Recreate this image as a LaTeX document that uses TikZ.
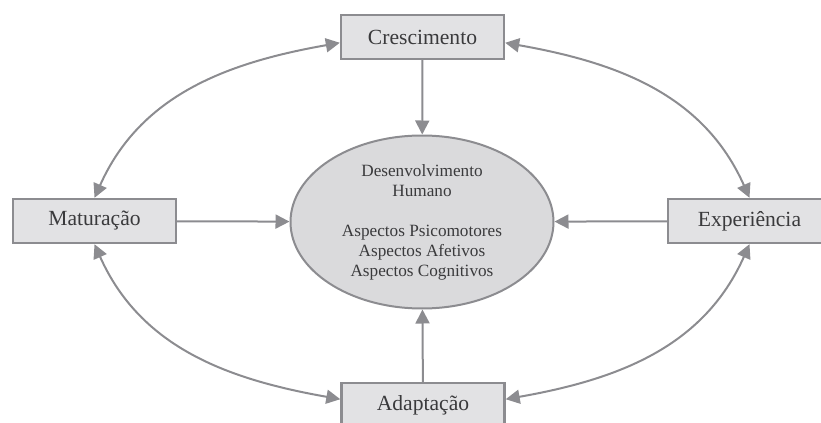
\documentclass[tikz,border=0pt]{standalone}
\usepackage{fontspec}
\setmainfont{Liberation Serif}
\usetikzlibrary{shapes.geometric,arrows.meta}
\definecolor{linegray}{RGB}{140,140,144}
\definecolor{boxfill}{RGB}{226,226,228}
\definecolor{ellfill}{RGB}{218,218,220}
\definecolor{textgray}{RGB}{58,58,60}
\begin{document}
\begin{tikzpicture}[x=0.5pt, y=-0.5pt, >={Triangle[length=7pt,width=7pt]},
  box/.style={shape=rectangle, draw=linegray, line width=1.2pt, fill=boxfill, text=textgray,
    minimum width=81.5pt, minimum height=22pt, inner sep=0pt, font=\fontsize{10.8}{13}\selectfont},
  link/.style={line width=1pt, color=linegray}]
\useasboundingbox (0,0) rectangle (821,423);
\node[shape=ellipse, draw=linegray, line width=1pt, fill=ellfill, text=textgray, align=center,
  minimum width=131.5pt, minimum height=86.5pt, inner sep=0pt, font=\fontsize{8.6}{10}\selectfont]
  (H) at (422,222) {Desenvolvimento\\Humano\\[10pt]Aspectos Psicomotores\\Aspectos Afetivos\\Aspectos Cognitivos};
\node[box] (C) at (422.5,37) {Crescimento};
\node[box] (M) at (94.5,221) {Maturação};
\node[box] (E) at (749.5,221) {Experiência};
\node[box] (A) at (423,405) {Adaptação};
\draw [->, link] (C) -- (H);
\draw [->, link] (M) -- (H);
\draw [->, link] (E) -- (H);
\draw [->, link] (A) -- (H);
\draw [<->, link] (C.184) to [out=190, in=66] (M.north);
\draw [<->, link] (C.-4) to [out=-10, in=114] (E.north);
\draw [<->, link] (A.176) to [out=170, in=-66] (M.south);
\draw [<->, link] (A.4) to [out=10, in=-114] (E.south);
\end{tikzpicture}
\end{document}
